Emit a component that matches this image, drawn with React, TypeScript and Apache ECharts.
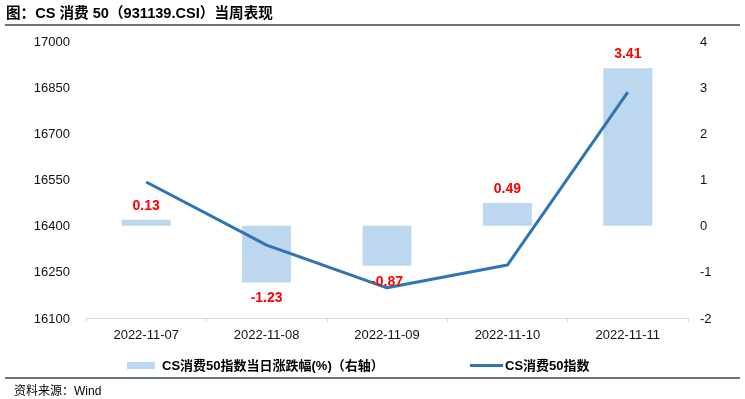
import React, { useEffect, useRef } from "react";
import * as echarts from "echarts";

const categories = ["2022-11-07", "2022-11-08", "2022-11-09", "2022-11-10", "2022-11-11"];
const changePct = [0.13, -1.23, -0.87, 0.49, 3.41];
const indexValues = [16542, 16337, 16198, 16272, 16834];
const leftMin = 16100;
const leftMax = 17000;
const leftStep = 150;
const rightMin = -2;
const rightMax = 4;
const rightStep = 1;
const titleText = "图：CS 消费 50（931139.CSI）当周表现";
const barName = "CS消费50指数当日涨跌幅(%)（右轴）";
const lineName = "CS消费50指数";
const sourceText = "资料来源：Wind";

const FONT = "'Liberation Sans', Arial, 'Noto Sans CJK SC', sans-serif";

export default function App() {
  const ref = useRef<HTMLDivElement>(null);
  useEffect(() => {
    if (!ref.current) return;
    const chart = echarts.init(ref.current, undefined, { renderer: "svg" });
    chart.setOption({
      animation: false,
      textStyle: { fontFamily: FONT },
      grid: { left: 86, right: 57, top: 41, bottom: 81 },
      legend: [
        {
          data: [{ name: barName, icon: "rect" }],
          left: 122,
          top: 354,
          itemWidth: 28,
          itemHeight: 7,
          textStyle: { fontSize: 13, fontWeight: "bold", color: "#000", fontFamily: FONT, padding: [0, 0, 0, 2] },
        },
        {
          data: [{ name: lineName, icon: "rect" }],
          left: 465,
          top: 354,
          itemWidth: 33,
          itemHeight: 3,
          textStyle: { fontSize: 13, fontWeight: "bold", color: "#000", fontFamily: FONT, padding: [0, 0, 0, -3] },
        },
      ],
      xAxis: {
        type: "category",
        data: categories,
        axisLine: { onZero: false, lineStyle: { color: "#D9D9D9", width: 1 } },
        axisTick: { show: true, length: 4, lineStyle: { color: "#D9D9D9" } },
        axisLabel: { fontSize: 13, color: "#111", margin: 10 },
      },
      yAxis: [
        {
          type: "value",
          min: 0,
          max: leftMax - leftMin,
          interval: leftStep,
          axisLine: { show: false },
          axisTick: { show: false },
          splitLine: { show: false },
          axisLabel: {
            fontSize: 13,
            color: "#111",
            margin: 16,
            formatter: (v: number) => String(v + leftMin),
          },
        },
        {
          type: "value",
          min: rightMin,
          max: rightMax,
          interval: rightStep,
          axisLine: { show: false },
          axisTick: { show: false },
          splitLine: { show: false },
          axisLabel: { fontSize: 13, color: "#111", margin: 12 },
        },
      ],
      series: [
        {
          name: barName,
          type: "bar",
          yAxisIndex: 1,
          barWidth: 49,
          barGap: "-100%",
          itemStyle: { color: "#BDD7EE" },
          data: changePct,
          z: 1,
        },
        {
          name: lineName,
          type: "line",
          yAxisIndex: 0,
          showSymbol: false,
          symbol: "none",
          lineStyle: { color: "#2E75B6", width: 3 },
          itemStyle: { color: "#2E75B6" },
          data: indexValues.map((v) => v - leftMin),
          z: 2,
        },
        {
          name: "labels",
          type: "bar",
          yAxisIndex: 1,
          barWidth: 49,
          barGap: "-100%",
          itemStyle: { color: "rgba(0,0,0,0)" },
          silent: true,
          z: 4,
          data: changePct.map((v) => ({
            value: v,
            label: {
              show: true,
              position: v >= 0 ? "top" : "bottom",
              distance: 8,
              color: "#FF0000",
              fontWeight: "bold",
              fontSize: 14,
              formatter: () => v.toFixed(2),
            },
          })),
        },
      ],
      graphic: [
        {
          type: "text",
          left: 6,
          top: 6,
          style: { text: titleText, fontSize: 14.6, fontWeight: "bold", fill: "#000", fontFamily: FONT },
        },
        {
          type: "line",
          shape: { x1: 5, y1: 25, x2: 740, y2: 25 },
          style: { stroke: "#3B4656", lineWidth: 1.5 },
        },
        {
          type: "line",
          shape: { x1: 5, y1: 378, x2: 740, y2: 378 },
          style: { stroke: "#3B4656", lineWidth: 1.5 },
        },
        {
          type: "text",
          left: 14,
          top: 385,
          style: { text: sourceText, fontSize: 12, fill: "#000", fontFamily: FONT },
        },
      ],
    });
    return () => chart.dispose();
  }, []);
  return <div ref={ref} style={{ position: "fixed", left: 0, top: 0, width: 745, height: 399 }} />;
}
